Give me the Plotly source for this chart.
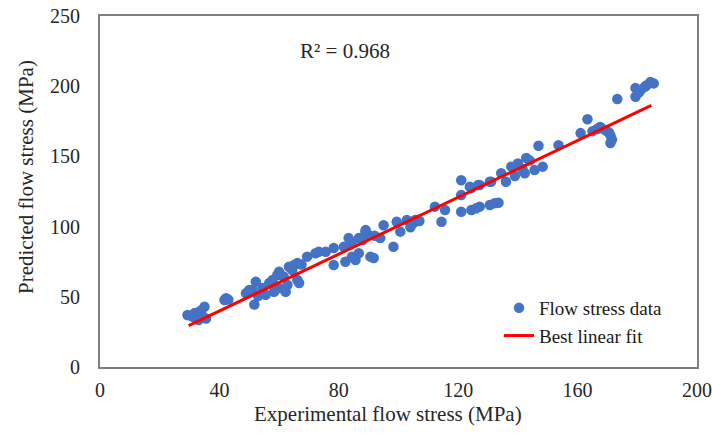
import plotly.graph_objects as go

# Experimental vs predicted flow stress (MPa)
exp_stress = [29.3, 31.7, 33.3, 35.0, 33.3, 31.1, 34.4, 30.5, 32.5, 34.0, 33.0, 35.5,
              41.7, 42.2, 43.0,
              48.9, 51.1, 52.2, 51.7, 50.0, 54.4, 56.7, 57.8, 59.4, 60.0, 58.3, 60.0,
              62.2, 62.8, 63.3, 65.0, 66.1, 64.4, 66.1, 66.7, 53.0, 55.5, 61.5, 67.5,
              69.4, 72.2, 75.6, 78.3, 73.3, 81.7, 83.3, 84.4, 86.7, 88.9, 90.0, 93.9,
              95.0, 98.3, 99.4, 100.6, 102.8, 105.0, 105.6, 104.0, 107.0,
              78.3, 82.2, 85.6, 86.7, 90.6, 91.7, 84.4, 89.0, 92.0, 88.0,
              112.2, 114.4, 115.6, 121.0, 121.0, 124.4, 127.2, 131.0, 121.0, 124.4,
              127.2, 130.6, 132.2, 133.5, 126.0,
              134.4, 137.8, 140.0, 142.8, 142.3, 145.6, 148.3, 136.0, 130.6, 126.7,
              123.9, 139.0, 141.5, 144.0, 146.9, 153.6,
              161.0, 163.3, 165.0, 166.5, 168.0, 169.5, 170.5, 171.0, 171.5, 171.0,
              167.5, 173.3, 179.4, 179.4, 181.0, 182.5, 184.4, 185.5, 183.0, 180.5]
pred_stress = [37.0, 38.4, 39.4, 43.0, 34.9, 35.8, 35.8, 36.5, 37.5, 40.5, 33.5, 34.5,
               47.7, 49.0, 48.0,
               52.5, 54.8, 60.8, 44.5, 54.8, 56.2, 59.8, 62.0, 65.5, 67.9, 53.6, 56.2,
               53.6, 58.4, 71.4, 72.6, 74.0, 69.0, 62.0, 59.8, 50.5, 51.5, 64.5, 73.0,
               78.6, 81.0, 82.0, 84.7, 82.1, 85.7, 91.8, 88.2, 91.8, 96.4, 94.0, 91.8,
               101.0, 85.7, 103.5, 96.4, 104.7, 102.5, 104.7, 99.5, 104.0,
               72.6, 75.0, 76.2, 81.0, 78.6, 77.6, 78.6, 97.5, 93.5, 90.5,
               114.2, 103.5, 111.8, 133.0, 122.5, 127.5, 129.6, 132.0, 110.6, 111.8,
               114.2, 115.4, 116.6, 117.0, 113.0,
               138.0, 142.7, 145.0, 148.8, 138.0, 140.3, 142.7, 132.0, 132.0, 129.6,
               128.4, 136.0, 141.0, 147.0, 157.6, 158.0,
               166.6, 176.4, 168.0, 169.5, 170.0, 168.5, 167.0, 165.0, 162.0, 159.5,
               171.0, 190.9, 192.5, 198.7, 197.0, 199.5, 203.0, 202.0, 200.5, 195.5]

fit_x = [29.7, 184.7]
fit_y = [29.5, 186.3]

x_ticks = [0, 40, 80, 120, 160, 200]
y_ticks = [0, 50, 100, 150, 200, 250]

FONT = "Liberation Serif, Times New Roman, serif"
TXT = "#262626"

L, R, T, B, W, H = 100, 15, 16, 70, 712, 437
PW, PH = W - L - R, H - T - B


def px_to_paper(px, py):
    return (px - L) / PW, (H - B - py) / PH


fig = go.Figure()
fig.add_trace(go.Scatter(
    x=exp_stress, y=pred_stress, mode="markers", name="Flow stress data",
    marker=dict(color="#4472C4", size=10.5, line=dict(width=0)),
))
fig.add_trace(go.Scatter(
    x=fit_x, y=fit_y, mode="lines", name="Best linear fit",
    line=dict(color="#FF0000", width=3),
))

r2x, r2y = px_to_paper(345, 51)
xtx, xty = px_to_paper(388, 414)
ytx, yty = px_to_paper(26, 177)
lgx, lgy = px_to_paper(499, 289)

fig.update_layout(
    width=W, height=H,
    margin=dict(l=L, r=R, t=T, b=B, autoexpand=False),
    paper_bgcolor="white", plot_bgcolor="white",
    font=dict(family=FONT, size=21, color=TXT),
    showlegend=True,
    legend=dict(
        x=lgx, y=lgy, xanchor="left", yanchor="top",
        bgcolor="rgba(0,0,0,0)", font=dict(family=FONT, size=19, color="#1a1a1a"),
        itemwidth=30, tracegroupgap=0,
    ),
    annotations=[
        dict(x=r2x, y=r2y, xref="paper", yref="paper", text="R² = 0.968",
             xanchor="center", yanchor="middle",
             showarrow=False, font=dict(family=FONT, size=21, color=TXT)),
        dict(x=xtx, y=xty, xref="paper", yref="paper", text="Experimental flow stress (MPa)",
             xanchor="center", yanchor="middle",
             showarrow=False, font=dict(family=FONT, size=21, color=TXT)),
        dict(x=ytx, y=yty, xref="paper", yref="paper", text="Predicted flow stress (MPa)",
             textangle=-90, xanchor="center", yanchor="middle",
             showarrow=False, font=dict(family=FONT, size=21, color=TXT)),
    ],
)

fig.update_xaxes(
    range=[0, 200], tickvals=x_ticks, showgrid=False, zeroline=False,
    showline=True, linecolor="#7f7f7f", linewidth=2, mirror=True,
    ticks="", ticklabelstandoff=4, ticklabeloverflow="allow", automargin=False,
    tickfont=dict(family=FONT, size=20, color=TXT),
)
fig.update_yaxes(
    range=[0, 250], tickvals=y_ticks, showgrid=False, zeroline=False,
    showline=True, linecolor="#7f7f7f", linewidth=2, mirror=True,
    ticks="", ticklabelstandoff=14, automargin=False,
    tickfont=dict(family=FONT, size=20, color=TXT),
)

fig.write_html("out.html")
